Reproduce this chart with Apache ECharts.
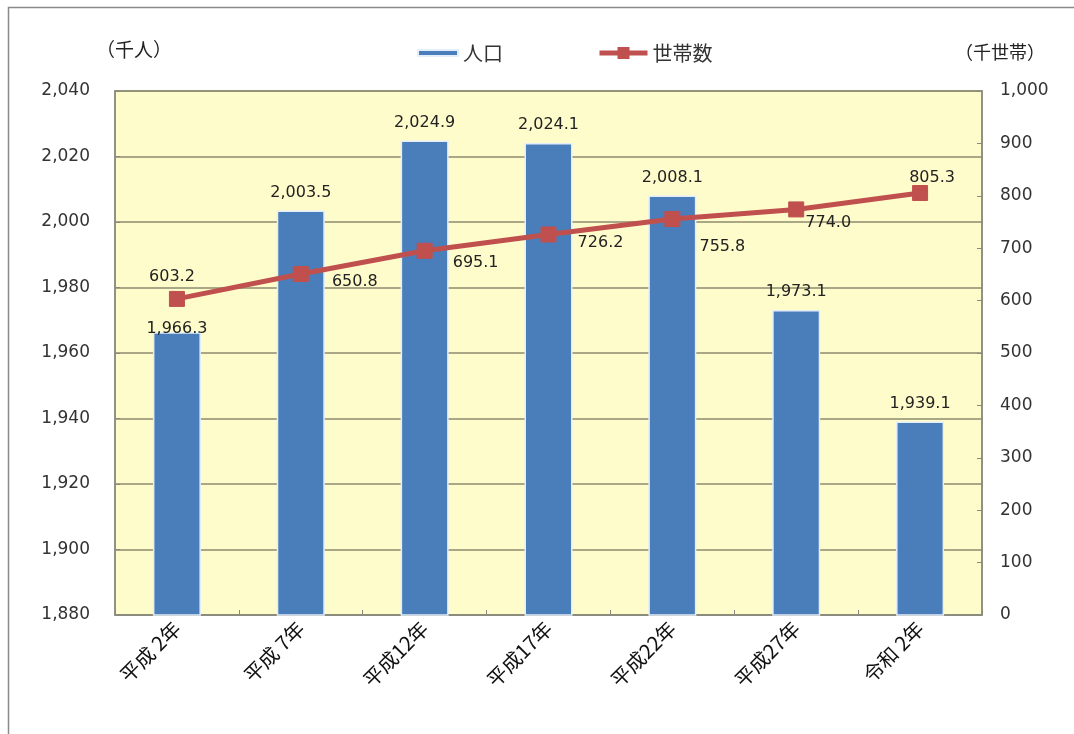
<!DOCTYPE html>
<html>
<head>
<meta charset="utf-8">
<script src="https://cdn.jsdelivr.net/npm/echarts@6/dist/echarts.min.js"></script>
<style>
html,body{margin:0;padding:0;background:#fff;}
#main{width:1074px;height:734px;}
</style>
</head>
<body>
<div id="main"></div>
<script>
// ---- data ----
const categories = ['平成 2年','平成 7年','平成12年','平成17年','平成22年','平成27年','令和 2年'];
const population = [1966.3, 2003.5, 2024.9, 2024.1, 2008.1, 1973.1, 1939.1];   // 千人
const households = [603.2, 650.8, 695.1, 726.2, 755.8, 774.0, 805.3];          // 千世帯
const leftTicks = {min: 1880, max: 2040, interval: 20};
const rightTicks = {min: 0, max: 1000, interval: 100};

// ---- styling (label offsets, not data) ----
const lineLabelOffsets = [[-5,-22],[54,8],[51,12],[52,8],[50,28],[32,13],[12,-15]];
const barLabelOffsets = [[0,14],[0,0],[0,0],[0,0],[0,0],[0,0],[0,0]];

const numFont = "'DejaVu Sans','Noto Sans CJK JP',sans-serif";
const jpFont = "'Noto Sans CJK JP','DejaVu Sans',sans-serif";
const fmt = v => Number(v).toLocaleString('en-US', {minimumFractionDigits: 1, maximumFractionDigits: 1});
const fmtTick = v => Number(v).toLocaleString('en-US');

const chart = echarts.init(document.getElementById('main'));
chart.setOption({
  animation: false,
  backgroundColor: '#ffffff',
  graphic: [
    {type: 'polyline', shape: {points: [[8.5,734],[8.5,7.5],[1074,7.5]]}, style: {stroke: '#8a8a8a', lineWidth: 1.5, fill: null}},
    {type: 'text', left: 96, top: 40, style: {text: '（千人）', font: "19px " + jpFont, fill: '#222'}},
    {type: 'text', left: 955, top: 43, style: {text: '（千世帯）', font: "18px " + jpFont, fill: '#222'}}
  ],
  legend: [
    {data: ['人口'], left: 412, top: 38, icon: 'rect', itemWidth: 40, itemHeight: 6,
     textStyle: {fontSize: 20, fontFamily: jpFont, color: '#333'}},
    {data: ['世帯数'], left: 592, top: 38, itemWidth: 48, itemHeight: 15,
     lineStyle: {width: 5},
     textStyle: {fontSize: 20, fontFamily: jpFont, color: '#333'}}
  ],
  grid: {left: 115, right: 92, top: 91, bottom: 119, show: true, backgroundColor: '#fffccb',
         borderColor: '#8a8a80', borderWidth: 1.5},
  xAxis: {
    type: 'category', data: categories, boundaryGap: true,
    axisLine: {lineStyle: {color: '#8a8a80', width: 1.5}},
    axisTick: {show: true, inside: true, length: 5, lineStyle: {color: '#8a8a80'}},
    axisLabel: {rotate: 45, margin: 10, fontSize: 20, fontFamily: jpFont, color: '#111', interval: 0}
  },
  yAxis: [
    {type: 'value', min: leftTicks.min, max: leftTicks.max, interval: leftTicks.interval,
     axisLine: {show: true, lineStyle: {color: '#8a8a80', width: 1.5}},
     axisTick: {show: true, inside: true, length: 5, lineStyle: {color: '#8a8a80'}},
     splitLine: {lineStyle: {color: '#8d8b6e', width: 1.5}},
     axisLabel: {margin: 25, fontSize: 17, fontFamily: numFont, color: '#333', formatter: fmtTick}},
    {type: 'value', min: rightTicks.min, max: rightTicks.max, interval: rightTicks.interval,
     axisLine: {show: true, lineStyle: {color: '#8a8a80', width: 1.5}},
     axisTick: {show: true, inside: true, length: 5, lineStyle: {color: '#8a8a80'}},
     splitLine: {show: false},
     axisLabel: {margin: 18, fontSize: 17, fontFamily: numFont, color: '#333', formatter: fmtTick}}
  ],
  series: [
    {name: '人口', type: 'bar', yAxisIndex: 0, barWidth: 48,
     itemStyle: {color: '#4a7ebb', borderColor: '#e4eefa', borderWidth: 1.5},
     data: population.map((v, i) => ({value: v, label: {offset: barLabelOffsets[i]}})),
     label: {show: true, position: 'top', distance: 10, fontSize: 16, fontFamily: numFont, color: '#222', formatter: p => fmt(p.value)}},
    {name: '世帯数', type: 'line', yAxisIndex: 1, symbol: 'rect', symbolSize: 15,
     lineStyle: {color: '#c0504d', width: 5},
     itemStyle: {color: '#c0504d', borderColor: '#c0504d'},
     data: households.map((v, i) => ({value: v, label: {offset: lineLabelOffsets[i]}})),
     label: {show: true, position: 'inside', fontSize: 16, fontFamily: numFont, color: '#222', formatter: p => fmt(p.value)},
     z: 5}
  ]
});
</script>
</body>
</html>
